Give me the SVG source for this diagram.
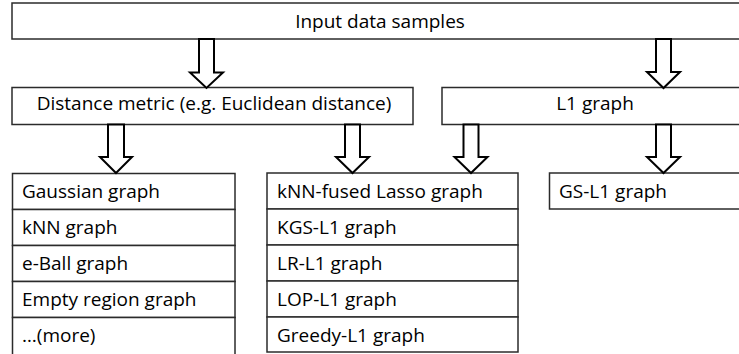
<svg xmlns="http://www.w3.org/2000/svg" width="739" height="354" viewBox="0 0 739 354">
<style>
.box{fill:#ffffff;stroke:#2b2b2b;stroke-width:1.5}
.t{font-family:"Open Sans","Noto Sans","Liberation Sans",sans-serif;font-size:19px;fill:#000000}
.c{text-anchor:middle}
.arrow{fill:#ffffff;stroke:#000000;stroke-width:2;stroke-linejoin:miter}
</style>
<rect x="0" y="0" width="739" height="354" fill="#ffffff"/>
<g id="input">
<rect class="box" x="12" y="3" width="740" height="36"/>
<text class="t c" x="380" y="28">Input data samples</text>
</g>
<g id="distance">
<rect class="box" x="12" y="87.5" width="401" height="37"/>
<text class="t c" x="214" y="110">Distance metric (e.g. Euclidean distance)</text>
</g>
<g id="l1">
<rect class="box" x="442" y="87.5" width="310" height="37"/>
<text class="t c" x="595" y="110">L1 graph</text>
</g>
<g id="list-distance">
<rect class="box" x="12.5" y="173.5" width="222.5" height="36"/>
<rect class="box" x="12.5" y="209.5" width="222.5" height="36"/>
<rect class="box" x="12.5" y="245.5" width="222.5" height="36"/>
<rect class="box" x="12.5" y="281.5" width="222.5" height="36"/>
<rect class="box" x="12.5" y="317.5" width="222.5" height="42"/>
<text class="t" x="22" y="198">Gaussian graph</text>
<text class="t" x="22" y="234">kNN graph</text>
<text class="t" x="22" y="270">e-Ball graph</text>
<text class="t" x="22" y="306">Empty region graph</text>
<text class="t" x="22" y="342">…(more)</text>
</g>
<g id="list-l1">
<rect class="box" x="267" y="173" width="251" height="36"/>
<rect class="box" x="267" y="209" width="251" height="36"/>
<rect class="box" x="267" y="245" width="251" height="36"/>
<rect class="box" x="267" y="281" width="251" height="36"/>
<rect class="box" x="267" y="317" width="251" height="35"/>
<text class="t" x="277" y="198">kNN-fused Lasso graph</text>
<text class="t" x="277" y="234">KGS-L1 graph</text>
<text class="t" x="277" y="270">LR-L1 graph</text>
<text class="t" x="277" y="306">LOP-L1 graph</text>
<text class="t" x="277" y="342">Greedy-L1 graph</text>
</g>
<g id="gs-l1">
<rect class="box" x="549.5" y="173" width="200" height="36"/>
<text class="t" x="559" y="198">GS-L1 graph</text>
</g>
<g id="connectors">
<path class="arrow" d="M199,39 L214,39 L214,72.5 L223,72.5 L206.5,88 L190,72.5 L199,72.5 Z"/>
<path class="arrow" d="M656,39 L671,39 L671,72 L680,72 L663.5,88 L647,72 L656,72 Z"/>
<path class="arrow" d="M108,124.5 L124,124.5 L124,157 L132,157 L116,173 L100,157 L108,157 Z"/>
<path class="arrow" d="M345,124.5 L360,124.5 L360,157 L369,157 L352.5,173 L336,157 L345,157 Z"/>
<path class="arrow" d="M463.5,124.5 L478.5,124.5 L478.5,157 L487.5,157 L471,173 L454.5,157 L463.5,157 Z"/>
<path class="arrow" d="M656,124.5 L671,124.5 L671,157 L680,157 L663.5,173 L647,157 L656,157 Z"/>
</g>
</svg>
